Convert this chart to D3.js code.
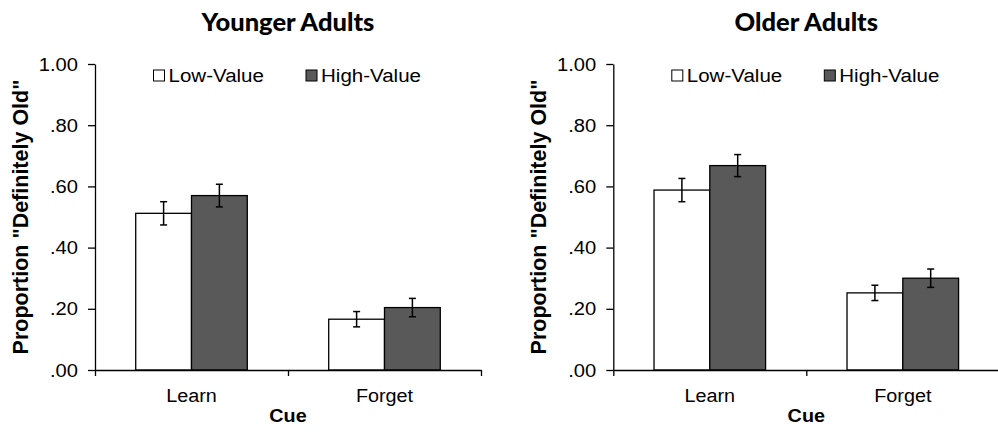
<!DOCTYPE html>
<html>
<head>
<meta charset="utf-8">
<script src="https://cdn.jsdelivr.net/npm/d3@7"></script>
<style>
	body { margin: 0; background: #fff; }
	svg { display: block; font-family: "Liberation Sans", Arial, sans-serif; }
	.axis path, .axis line { stroke: #000; stroke-width: 1.3px; }
	.axis text { fill: #000; }
</style>
</head>
<body>
<svg id="chart" width="998" height="432"></svg>
<script>

var cues = [ 'Learn', 'Forget' ];
var seriesNames = [ 'Low-Value', 'High-Value' ];
var seriesColors = [ '#ffffff', '#595959' ];
var yTicks = [ 0, 0.2, 0.4, 0.6, 0.8, 1.0 ];

var youngerLow = [ 0.512, 0.166 ];
var youngerHigh = [ 0.570, 0.204 ];
var youngerLowErr = [ 0.038, 0.025 ];
var youngerHighErr = [ 0.037, 0.030 ];

var olderLow = [ 0.588, 0.252 ];
var olderHigh = [ 0.668, 0.300 ];
var olderLowErr = [ 0.038, 0.025 ];
var olderHighErr = [ 0.036, 0.030 ];

var panels = [
	{ title: 'Younger Adults', left: 95, values: [ youngerLow, youngerHigh ], errors: [ youngerLowErr, youngerHighErr ] },
	{ title: 'Older Adults', left: 613.3, values: [ olderLow, olderHigh ], errors: [ olderLowErr, olderHighErr ] }
];

var svg = d3.select( '#chart' );
var plotTop = 64, height = 306, width = 386;

// stretch text a little wider, the source picture is wider than tall
var stretch = function ( sel, k ) {
	sel.each( function () {
		var w = this.getComputedTextLength();
		d3.select( this ).attr( 'textLength', w * k ).attr( 'lengthAdjust', 'spacingAndGlyphs' );
	} );
};

var y = d3.scaleLinear().domain( [ 0, 1 ] ).range( [ height, 0 ] );
var x = d3.scaleBand().domain( cues ).range( [ 0, width ] ).padding( 0 );
var xs = d3.scaleBand().domain( seriesNames ).range( [ 0, x.bandwidth() ] ).paddingInner( 0 ).paddingOuter( 0.73 );
var xEdges = d3.scaleLinear().domain( [ 0, cues.length ] ).range( [ 0, width ] );

panels.forEach( function ( p ) {

	var g = svg.append( 'g' ).attr( 'transform', 'translate(' + p.left + ',' + plotTop + ')' );

	// title
	var title = svg.append( 'text' )
		.attr( 'x', p.left + width / 2 )
		.attr( 'y', 31 )
		.attr( 'text-anchor', 'middle' )
		.style( 'font-family', 'Lato, "Open Sans", sans-serif' )
		.style( 'font-weight', '900' )
		.style( 'font-size', '25px' )
		.text( p.title );
	stretch( title, 1.02 );

	// bars
	seriesNames.forEach( function ( s, si ) {
		g.selectAll( 'rect.bar-' + si )
			.data( cues )
			.enter()
			.append( 'rect' )
			.attr( 'x', function ( d ) { return x( d ) + xs( s ); } )
			.attr( 'y', function ( d, i ) { return y( p.values[si][i] ); } )
			.attr( 'width', xs.bandwidth() )
			.attr( 'height', function ( d, i ) { return height - y( p.values[si][i] ); } )
			.style( 'fill', seriesColors[si] )
			.style( 'stroke', '#000' )
			.style( 'stroke-width', 1.3 );
	} );

	// error bars
	seriesNames.forEach( function ( s, si ) {
		cues.forEach( function ( c, i ) {
			var cx = x( c ) + xs( s ) + xs.bandwidth() / 2;
			var v = p.values[si][i], e = p.errors[si][i];
			var eb = g.append( 'g' ).style( 'stroke', '#000' ).style( 'stroke-width', 1.5 );
			eb.append( 'line' ).attr( 'x1', cx ).attr( 'x2', cx ).attr( 'y1', y( v + e ) ).attr( 'y2', y( v - e ) );
			eb.append( 'line' ).attr( 'x1', cx - 3.5 ).attr( 'x2', cx + 3.5 ).attr( 'y1', y( v + e ) ).attr( 'y2', y( v + e ) );
			eb.append( 'line' ).attr( 'x1', cx - 3.5 ).attr( 'x2', cx + 3.5 ).attr( 'y1', y( v - e ) ).attr( 'y2', y( v - e ) );
		} );
	} );

	// y axis
	var yAxis = d3.axisLeft( y )
		.tickValues( yTicks )
		.tickSize( 7 )
		.tickSizeOuter( 0 )
		.tickPadding( 10 )
		.tickFormat( function ( d ) { return d3.format( '.2f' )( d ).replace( /^0/, '' ); } );

	var ya = g.append( 'g' ).classed( 'axis', true ).call( yAxis );
	ya.selectAll( 'text' ).style( 'font-size', '18px' ).attr( 'dy', '0.34em' );
	stretch( ya.selectAll( 'text' ), 1.12 );

	// x axis: ticks on the category edges
	g.append( 'g' ).classed( 'axis', true )
		.attr( 'transform', 'translate(0,' + height + ')' )
		.call( d3.axisBottom( xEdges ).tickValues( d3.range( cues.length + 1 ) ).tickSize( 6 ).tickSizeOuter( 0 ).tickFormat( '' ) );

	var xl = g.append( 'g' ).classed( 'axis', true )
		.attr( 'transform', 'translate(0,' + height + ')' )
		.call( d3.axisBottom( x ).tickSize( 0 ).tickPadding( 19 ) );
	xl.select( '.domain' ).remove();
	xl.selectAll( 'text' ).style( 'font-size', '18px' );
	stretch( xl.selectAll( 'text' ), 1.1 );

	// axis titles
	var cue = g.append( 'text' )
		.attr( 'x', width / 2 )
		.attr( 'y', height + 52 )
		.attr( 'text-anchor', 'middle' )
		.style( 'font-weight', 'bold' )
		.style( 'font-size', '18px' )
		.text( 'Cue' );
	stretch( cue, 1.1 );

	g.append( 'text' )
		.attr( 'transform', 'translate(-67.5,' + ( height / 2 ) + ') rotate(-90)' )
		.attr( 'text-anchor', 'middle' )
		.style( 'font-weight', 'bold' )
		.style( 'font-size', '21.5px' )
		.text( 'Proportion "Definitely Old"' );

	// legend
	var lx = [ 58.5, 211 ];
	seriesNames.forEach( function ( s, si ) {
		var lg = g.append( 'g' ).attr( 'transform', 'translate(' + lx[si] + ',6)' );
		lg.append( 'rect' )
			.attr( 'width', 11 ).attr( 'height', 11 )
			.style( 'fill', seriesColors[si] )
			.style( 'stroke', '#000' )
			.style( 'stroke-width', 1 );
		var t = lg.append( 'text' )
			.attr( 'x', 15 )
			.attr( 'y', 12 )
			.style( 'font-size', '18px' )
			.text( s );
		stretch( t, 1.14 );
	} );

} );

</script>
</body>
</html>
